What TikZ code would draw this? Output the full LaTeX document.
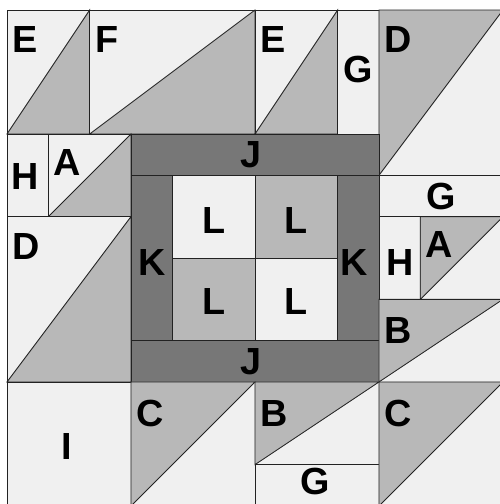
\documentclass[tikz,border=0pt]{standalone}
\usepackage{fontspec}
\setmainfont{Liberation Sans}
\usepackage{tikz}
\usetikzlibrary{positioning}

\definecolor{patchlight}{HTML}{F0F0F0}
\definecolor{patchmid}{HTML}{B8B8B8}
\definecolor{patchdark}{HTML}{777777}
\definecolor{seam}{HTML}{222222}

\begin{document}
\begin{tikzpicture}[
    x=1cm, y=-1cm,
    light/.style={draw=seam, line width=0.6pt, fill=patchlight},
    mid/.style={draw=seam, line width=0.6pt, fill=patchmid},
    dark/.style={draw=seam, line width=0.6pt, fill=patchdark},
    lbl/.style={inner sep=0pt, font=\fontsize{26}{26}\selectfont\bfseries},
    cornerlbl/.style={lbl, anchor=base west}
]
    \useasboundingbox (-0.169,-0.242) rectangle (11.928,11.952);

    % top band
    \draw[light] (0,0) rectangle (2,3);
    \draw[mid] (0,3) -- (2,0) -- (2,3) -- cycle;
    \draw[light] (2,0) rectangle (6,3);
    \draw[mid] (2,3) -- (6,0) -- (6,3) -- cycle;
    \draw[light] (6,0) rectangle (8,3);
    \draw[mid] (6,3) -- (8,0) -- (8,3) -- cycle;
    \draw[light] (8,0) rectangle (9,3);
    \draw[light] (9,0) rectangle (12,4);
    \draw[mid] (9,0) -- (12,0) -- (9,4) -- cycle;

    % left side
    \draw[light] (0,3) rectangle (1,5);
    \draw[light] (1,3) rectangle (3,5);
    \draw[mid] (1,5) -- (3,3) -- (3,5) -- cycle;
    \draw[light] (0,5) rectangle (3,9);
    \draw[mid] (0,9) -- (3,5) -- (3,9) -- cycle;

    % centre frame and four patches
    \draw[dark] (3,3) rectangle (9,4);
    \draw[dark] (3,8) rectangle (9,9);
    \draw[dark] (3,4) rectangle (4,8);
    \draw[dark] (8,4) rectangle (9,8);
    \draw[light] (4,4) rectangle (6,6);
    \draw[mid] (6,4) rectangle (8,6);
    \draw[mid] (4,6) rectangle (6,8);
    \draw[light] (6,6) rectangle (8,8);

    % right side
    \draw[light] (9,4) rectangle (12,5);
    \draw[light] (9,5) rectangle (10,7);
    \draw[light] (10,5) rectangle (12,7);
    \draw[mid] (10,5) -- (12,5) -- (10,7) -- cycle;
    \draw[light] (9,7) rectangle (12,9);
    \draw[mid] (9,7) -- (12,7) -- (9,9) -- cycle;

    % bottom band
    \draw[light] (0,9) rectangle (3,12);
    \draw[light] (3,9) rectangle (6,12);
    \draw[mid] (3,9) -- (6,9) -- (3,12) -- cycle;
    \draw[light] (6,9) rectangle (9,11);
    \draw[mid] (6,9) -- (9,9) -- (6,11) -- cycle;
    \draw[light] (6,11) rectangle (9,12);
    \draw[light] (9,9) rectangle (12,12);
    \draw[mid] (9,9) -- (12,9) -- (9,12) -- cycle;

    % labels
    \node[cornerlbl] (eleft) at (0.13,1.03) {E};
    \node[cornerlbl] (f) at (2.13,1.03) {F};
    \node[cornerlbl] (emid) at (6.13,1.03) {E};
    \node[lbl] (gtop) at (8.5,1.45) {G};
    \node[cornerlbl] (dtop) at (9.13,1.03) {D};
    \node[lbl] (hleft) at (0.45,4.02) {H};
    \node[cornerlbl] (aleft) at (1.13,4.0) {A};
    \node[cornerlbl] (dleft) at (0.13,6.03) {D};
    \node[lbl] (jtop) at (5.9,3.5) {J};
    \node[lbl] (jbot) at (5.9,8.5) {J};
    \node[lbl] (kleft) at (3.5,6.1) {K};
    \node[lbl] (kright) at (8.4,6.1) {K};
    \node[lbl] (ltl) at (5,5.1) {L};
    \node[lbl] (ltr) at (7,5.1) {L};
    \node[lbl] (lbl) at (5,7.05) {L};
    \node[lbl] (lbr) at (7,7.05) {L};
    \node[lbl] (gright) at (10.5,4.5) {G};
    \node[lbl] (hright) at (9.5,6.1) {H};
    \node[cornerlbl] (aright) at (10.13,6.0) {A};
    \node[cornerlbl] (bright) at (9.13,8.07) {B};
    \node[lbl] (i) at (1.45,10.55) {I};
    \node[cornerlbl] (cleft) at (3.13,10.07) {C};
    \node[cornerlbl] (bbot) at (6.13,10.07) {B};
    \node[cornerlbl] (cright) at (9.13,10.07) {C};
    \node[lbl] (gbot) at (7.45,11.4) {G};
\end{tikzpicture}
\end{document}
